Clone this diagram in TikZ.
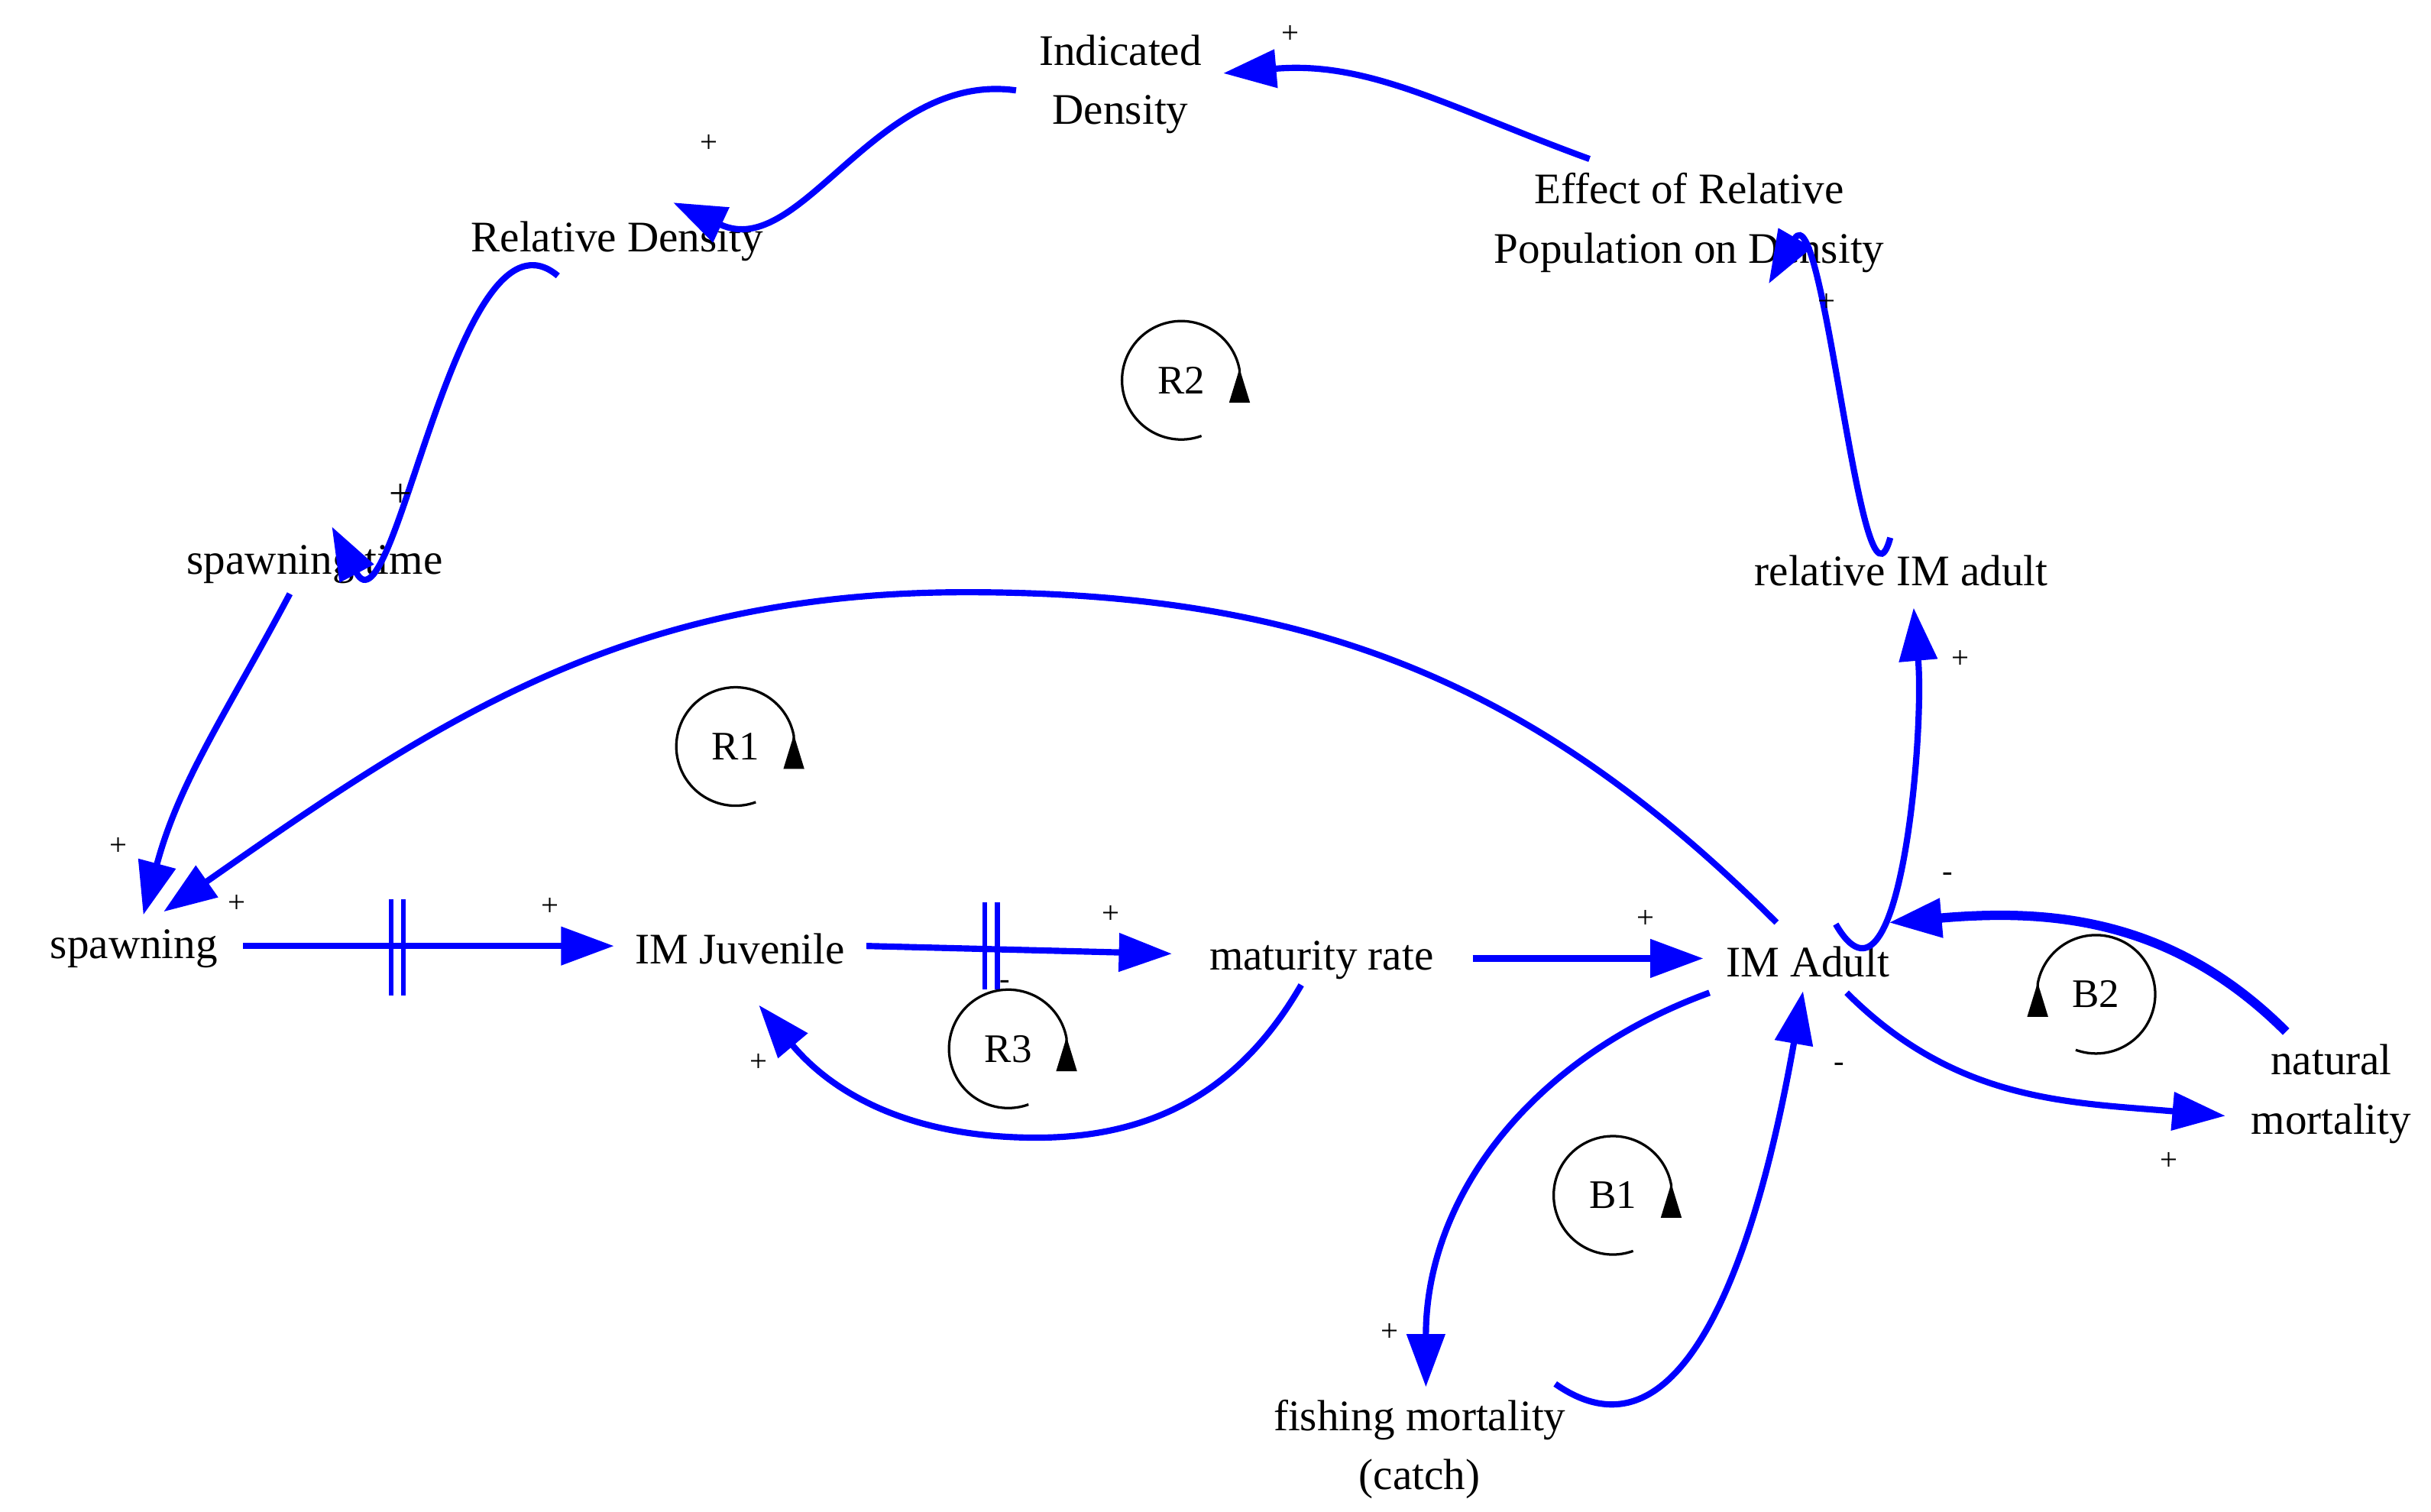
\documentclass[tikz,border=0pt]{standalone}
\usepackage{fontspec}
\setmainfont{Liberation Serif}
\usetikzlibrary{arrows.meta}
\begin{document}
\begin{tikzpicture}[x=1pt,y=-1pt,
  lbl/.style={font=\fontsize{28}{38}\selectfont,align=center,inner sep=0pt},
  sg/.style={font=\fontsize{20}{24}\selectfont,inner sep=0pt},
  lk/.style={draw=blue,line width=4pt,-{Triangle[length=34pt,width=24pt]}},
  loopc/.style={draw=black,line width=1.6pt,-{Triangle[length=22pt,width=13pt]}},
  loopt/.style={font=\fontsize{26}{30}\selectfont,inner sep=0pt}]
\useasboundingbox (0,0) rectangle (1560,970);
\node[lbl] (ind) at (719,54) {Indicated\\Density};
\node[lbl] (eff) at (1084,143) {Effect of Relative\\Population on Density};
\node[lbl] (rd) at (396,155) {Relative Density};
\node[lbl] (st) at (202,362) {spawning time};
\node[lbl] (ria) at (1220,366) {relative IM adult};
\node[lbl] (sp) at (86,609) {spawning};
\node[lbl] (juv) at (475,609) {IM Juvenile};
\node[lbl] (mr) at (848,616) {maturity rate};
\node[lbl] (ad) at (1160,617) {IM Adult};
\node[lbl] (nm) at (1496,702) {natural\\mortality};
\node[lbl] (fm) at (911,930) {fishing mortality\\(catch)};
% connector end points
\coordinate (a1) at (1020,102); \coordinate (b1) at (785,47);
\coordinate (a2) at (652,58); \coordinate (b2) at (432,130);
\coordinate (a3) at (358,177); \coordinate (b3) at (213,338);
\coordinate (a4) at (186,381); \coordinate (b4) at (92,587);
\coordinate (a5) at (1140,592); \coordinate (b5) at (105,585);
\coordinate (a6) at (1213,345); \coordinate (b6) at (1135,182);
\coordinate (a7) at (1178,593); \coordinate (b7) at (1228,390);
\coordinate (a8) at (156,607); \coordinate (b8) at (394,607);
\coordinate (a9) at (556,607); \coordinate (b9) at (752,612);
\coordinate (a10) at (945,615); \coordinate (b10) at (1093,615);
\coordinate (a11) at (835,632); \coordinate (b11) at (487,645);
\coordinate (a12) at (1097,637); \coordinate (b12) at (915,890);
\coordinate (a13) at (998,888); \coordinate (b13) at (1157,636);
\coordinate (a14) at (1185,637); \coordinate (b14) at (1428,716);
\coordinate (a15) at (1467,662); \coordinate (b15) at (1212,592);
\draw[lk] (a1) to[out=160,in=5] (b1);
\draw[lk] (a2) to[out=172,in=-25] (b2);
\draw[lk] (a3) to[out=140,in=-62] (b3);
\draw[lk] (a4) to[out=-118,in=75] (b4);
\draw[lk] (a5) to[out=135,in=0] (620,380) to[out=180,in=35] (b5);
\draw[lk] (a6) to[out=-105,in=60] (b6);
\draw[lk] (a7) to[out=-60,in=-85] (b7);
\draw[lk] (a8) -- (b8);
\draw[lk] (a9) -- (b9);
\draw[lk] (a10) -- (b10);
\draw[lk] (a11) to[out=-120,in=0] (665,730) to[out=180,in=-50] (b11);
\draw[lk] (a12) to[out=-160,in=90] (b12);
\draw[lk] (a13) to[out=-35,in=-100] (b13);
\draw[lk] (a14) to[out=-45,in=175] (b14);
\draw[lk,line width=6pt] (a15) to[out=135,in=5] (b15);
% delay marks
\draw[blue,line width=3pt] (251,577)--(251,639) (259,577)--(259,639);
\draw[blue,line width=3pt] (632,579)--(632,635) (640,579)--(640,635);
% polarity signs
\node[sg] (p1) at (828,22) {+};
\node[sg] (p2) at (455,92) {+};
\node[sg,font=\fontsize{26}{30}\selectfont] (p3) at (257,318) {+};
\node[sg] (p4) at (76,543) {+};
\node[sg] (p5) at (152,580) {+};
\node[sg] (p6) at (1172,194) {+};
\node[sg] (p7) at (1258,423) {+};
\node[sg] (p8) at (353,582) {+};
\node[sg] (p9) at (713,587) {+};
\node[sg] (p10) at (1056,590) {+};
\node[sg] (p11) at (487,682) {+};
\node[sg] (m1) at (645,632) {-};
\node[sg] (p12) at (892,855) {+};
\node[sg] (m2) at (1180,685) {-};
\node[sg] (p13) at (1392,745) {+};
\node[sg] (m3) at (1250,563) {-};
% loops
\node[loopt] (r2) at (758,244) {R2};
\draw[loopc] (758,244) ++(70:38) arc (70:350:38) -- ++(0,-1) ;
\node[loopt] (r1) at (472,479) {R1};
\draw[loopc] (472,479) ++(70:38) arc (70:350:38) -- ++(0,-1);
\node[loopt] (r3) at (647,673) {R3};
\draw[loopc] (647,673) ++(70:38) arc (70:350:38) -- ++(0,-1);
\node[loopt] (b1n) at (1035,767) {B1};
\draw[loopc] (1035,767) ++(70:38) arc (70:350:38) -- ++(0,-1);
\node[loopt] (b2n) at (1345,638) {B2};
\draw[loopc] (1345,638) ++(110:38) arc (110:-170:38) -- ++(0,-1);
\end{tikzpicture}
\end{document}
